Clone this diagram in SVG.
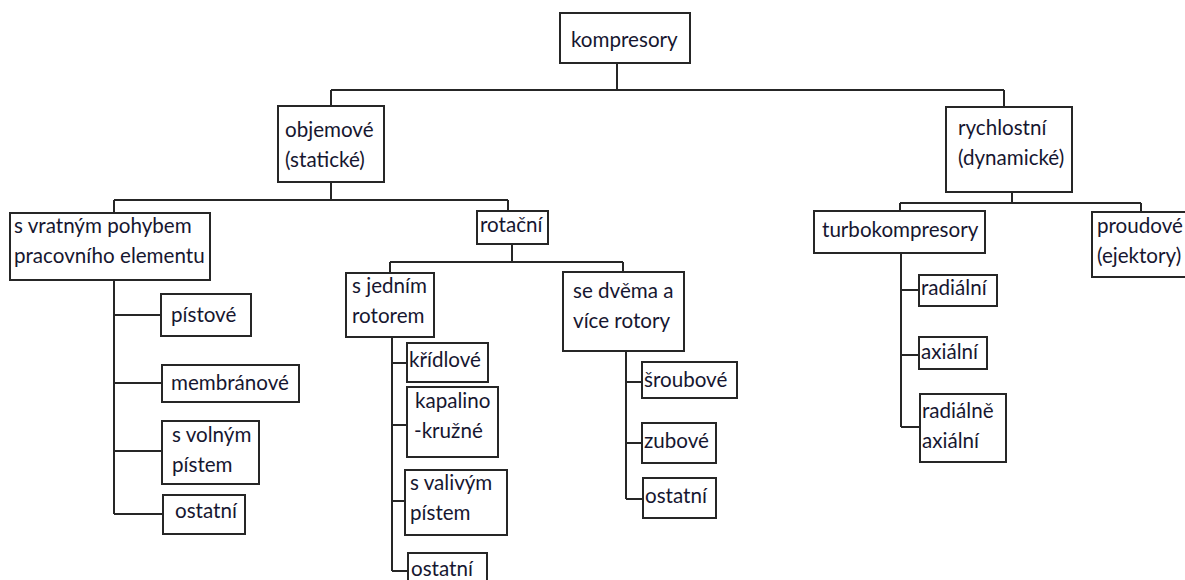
<svg xmlns="http://www.w3.org/2000/svg" width="1185" height="580" viewBox="0 0 1185 580">
<style>
rect{fill:#fff;stroke:#262626;stroke-width:2}
text{font-family:Lato,"Liberation Sans",sans-serif;font-size:20.6px;fill:#161630}
#connectors path{fill:none;stroke:#262626;stroke-width:2}
</style>
<rect x="0" y="0" width="1185" height="580" style="stroke:none"/>
<g id="connectors">
<path d="M617,63V90M331,90H1004M331,90V106M1004,90V107"/>
<path d="M331,182V200M114,200H508M114,200V213M508,200V211"/>
<path d="M512,244V262M390,262H623M390,262V273M623,262V272"/>
<path d="M392,337V571M392,363H407M392,425H407M392,501H405M392,571H408"/>
<path d="M626,351V499M626,382H642M626,443H642M626,499H643"/>
<path d="M114,280V514M114,315H161M114,383H162M114,451H162M114,514H163"/>
<path d="M1012,192V203M900,203H1141M900,203V211M1141,203V212"/>
<path d="M901,253V427M901,290H919M901,355H919M901,427H920"/>
</g>
<g id="kompresory"><rect x="560" y="13" width="130" height="50"/><text x="571" y="47">kompresory</text></g>
<g id="objemove"><rect x="278" y="106" width="106" height="76"/><text x="285" y="137">objemové</text><text x="285" y="167">(statické)</text></g>
<g id="rychlostni"><rect x="946" y="107" width="126" height="85"/><text x="958" y="135">rychlostní</text><text x="958" y="165">(dynamické)</text></g>
<g id="vratny"><rect x="10" y="213" width="200" height="67"/><text x="14" y="233">s vratným pohybem</text><text x="14" y="263">pracovního elementu</text></g>
<g id="rotacni"><rect x="477" y="211" width="71" height="33"/><text x="480" y="232">rotační</text></g>
<g id="turbokompresory"><rect x="814" y="211" width="171" height="42"/><text x="822" y="237">turbokompresory</text></g>
<g id="proudove"><rect x="1092" y="212" width="100" height="65"/><text x="1097" y="233">proudové</text><text x="1097" y="263">(ejektory)</text></g>
<g id="jednim"><rect x="346" y="273" width="88" height="64"/><text x="352" y="293">s jedním</text><text x="352" y="323">rotorem</text></g>
<g id="dvema"><rect x="563" y="272" width="121" height="79"/><text x="573" y="298">se dvěma a</text><text x="573" y="328">více rotory</text></g>
<g id="pistove"><rect x="161" y="294" width="90" height="42"/><text x="171" y="322">pístové</text></g>
<g id="membranove"><rect x="162" y="365" width="137" height="37"/><text x="171" y="390">membránové</text></g>
<g id="volnym"><rect x="162" y="421" width="97" height="63"/><text x="172" y="442">s volným</text><text x="172" y="472">pístem</text></g>
<g id="ostatni1"><rect x="163" y="495" width="82" height="39"/><text x="175" y="518">ostatní</text></g>
<g id="kridlove"><rect x="407" y="343" width="81" height="39"/><text x="409" y="367">křídlové</text></g>
<g id="kapalino"><rect x="407" y="387" width="91" height="70"/><text x="415" y="408">kapalino</text><text x="414" y="438">-kružné</text></g>
<g id="valivym"><rect x="405" y="470" width="102" height="65"/><text x="410" y="490">s valivým</text><text x="410" y="520">pístem</text></g>
<g id="ostatni2"><rect x="408" y="553" width="79" height="40"/><text x="411" y="576">ostatní</text></g>
<g id="sroubove"><rect x="642" y="362" width="95" height="36"/><text x="644" y="387">šroubové</text></g>
<g id="zubove"><rect x="642" y="423" width="74" height="40"/><text x="644" y="448">zubové</text></g>
<g id="ostatni3"><rect x="643" y="478" width="73" height="40"/><text x="645" y="503">ostatní</text></g>
<g id="radialni"><rect x="919" y="275" width="78" height="31"/><text x="921" y="295">radiální</text></g>
<g id="axialni"><rect x="919" y="337" width="68" height="32"/><text x="921" y="359">axiální</text></g>
<g id="radialneaxialni"><rect x="920" y="394" width="86" height="68"/><text x="922" y="418">radiálně</text><text x="922" y="448">axiální</text></g>
</svg>
